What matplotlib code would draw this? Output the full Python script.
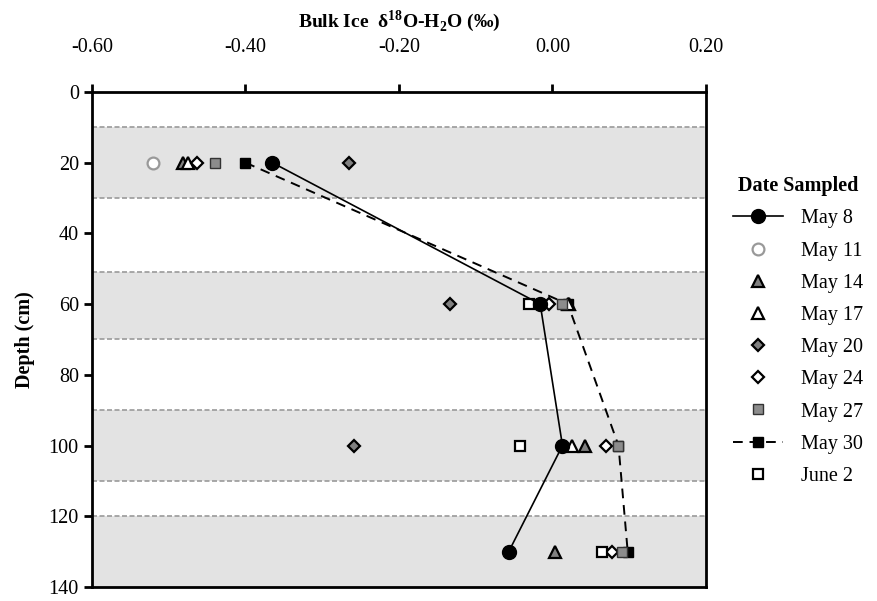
import matplotlib
matplotlib.use('Agg')
import matplotlib.pyplot as plt
import numpy as np

plt.rcParams['font.family'] = ['Liberation Serif', 'DejaVu Serif']
plt.rcParams['mathtext.fontset'] = 'custom'
plt.rcParams['mathtext.rm'] = 'Liberation Serif'
plt.rcParams['mathtext.bf'] = 'Liberation Serif:bold'

nan = np.nan

# 采样深度 (cm)
depth = [20, 60, 100, 130]

# 各日期的 δ18O 值 (‰)
may8 = [-0.365, -0.016, 0.013, -0.057]
may11 = [-0.521, nan, nan, nan]
may14 = [-0.482, 0.022, 0.042, 0.003]
may17 = [-0.475, 0.020, 0.025, nan]
may20 = [-0.265, -0.133, -0.258, nan]
may24 = [-0.463, -0.005, 0.070, 0.077]
may27 = [-0.440, 0.013, 0.085, 0.090]
may30 = [-0.400, 0.020, 0.086, 0.098]
june2 = [nan, -0.031, -0.042, 0.065]

labels = ['May 8', 'May 11', 'May 14', 'May 17', 'May 20',
          'May 24', 'May 27', 'May 30', 'June 2']

# 阴影层位
bands = [(10, 30), (51, 70), (90, 110), (120, 140)]

fig = plt.figure(figsize=(8.77, 6.01), dpi=100)
ax = fig.add_axes([0.1049, 0.0233, 0.7001, 0.8237])

for top, bot in bands:
    ax.axhspan(top, bot, color='#e3e3e3', lw=0, zorder=0)
    for yy in (top, bot):
        if yy < 140:
            ax.axhline(yy, color='#9a9a9a', ls=(0, (3, 1.5)), lw=1.2, zorder=1)

ax.plot(may8, depth, '-o', color='black', mfc='black', ms=10, lw=1.2,
        label=labels[0], zorder=5)
ax.plot(may11, depth, 'o', mfc='white', mec='#999999', mew=1.6, ms=8.5,
        ls='none', label=labels[1], zorder=4)
ax.plot(may14, depth, '^', mfc='#808080', mec='black', mew=1.6, ms=8,
        ls='none', label=labels[2], zorder=4)
ax.plot(may17, depth, '^', mfc='white', mec='black', mew=1.6, ms=8,
        ls='none', label=labels[3], zorder=4)
ax.plot(may20, depth, 'D', mfc='#808080', mec='black', mew=1.6, ms=6.5,
        ls='none', label=labels[4], zorder=4)
ax.plot(may24, depth, 'D', mfc='white', mec='black', mew=1.6, ms=6.5,
        ls='none', label=labels[5], zorder=4)
ax.plot(may27, depth, 's', mfc='#8c8c8c', mec='#333333', mew=1.0, ms=7.5,
        ls='none', label=labels[6], zorder=4)
ax.plot(may30, depth, 's', color='black', mfc='black', ms=7.5, lw=1.4,
        ls=(0, (5, 3.5)), label=labels[7], zorder=3)
ax.plot(june2, depth, 's', mfc='white', mec='black', mew=1.6, ms=7.5,
        ls='none', label=labels[8], zorder=4)

ax.set_xlim(-0.6, 0.2)
ax.set_ylim(140, 0)
ax.set_xticks(np.arange(-0.6, 0.21, 0.2))
ax.set_xticklabels(['%.2f' % v for v in np.arange(-0.6, 0.21, 0.2)])
ax.set_yticks(np.arange(0, 141, 20))
ax.xaxis.tick_top()
ax.xaxis.set_label_position('top')
ax.tick_params(axis='both', labelsize=14.5, width=2, length=6, direction='out')
ax.tick_params(axis='x', pad=19)
for sp in ax.spines.values():
    sp.set_linewidth(2)
    sp.set_color('black')

ax.set_xlabel(r'Bulk Ice  δ$^{\mathbf{18}}$O-H$_{\mathbf{2}}$O (‰)',
              fontsize=14, fontweight='bold', labelpad=8)
ax.set_ylabel('Depth (cm)', fontsize=14.5, fontweight='bold', labelpad=10)

leg = ax.legend(loc='center left', bbox_to_anchor=(1.0, 0.517), frameon=False,
                fontsize=14.5, title='Date Sampled', handlelength=2.45,
                handletextpad=0.9, labelspacing=0.65, borderaxespad=0.95)
leg.get_title().set_fontweight('bold')
leg.get_title().set_fontsize(14.5)

fig.savefig('out.png', dpi=100)
